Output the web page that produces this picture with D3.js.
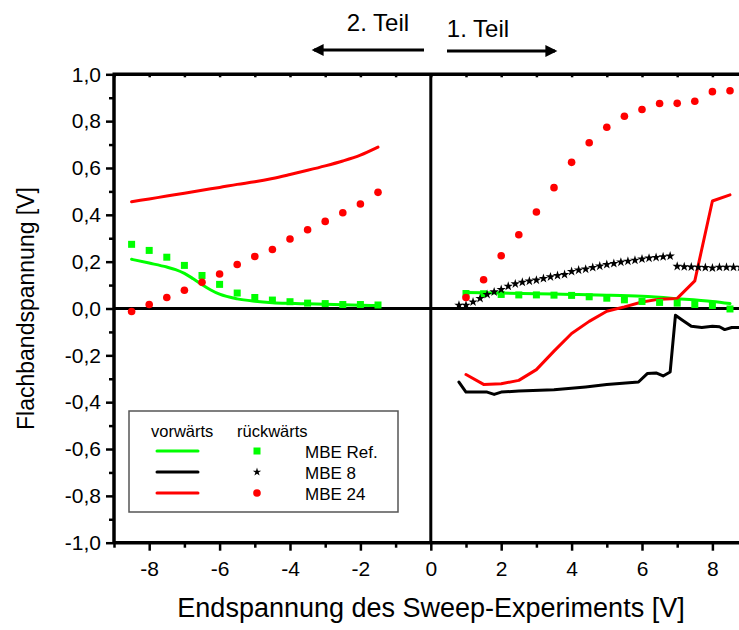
<!DOCTYPE html>
<html><head><meta charset="utf-8">
<script src="https://cdn.jsdelivr.net/npm/d3@7"></script>
<style>body{margin:0;background:#fff}svg{display:block}text{font-family:"Liberation Sans",Arial,sans-serif}</style>
</head><body>
<svg id="c" width="739" height="630"></svg>
<script>
// ---------- data ----------
const leftX = [-8.5,-8,-7.5,-7,-6.5,-6,-5.5,-5,-4.5,-4,-3.5,-3,-2.5,-2,-1.5];
const refFwdLeftX  = [-8.5,-8,-7.5,-7.25,-7,-6.75,-6.5,-6.25,-6,-5.5,-5,-4.5,-4,-3.5,-3,-2.5,-2,-1.5];
const refFwdLeft   = [0.210,0.194,0.177,0.166,0.150,0.127,0.102,0.079,0.061,0.041,0.031,0.025,0.022,0.020,0.018,0.016,0.014,0.013];
const refRevLeft   = [0.274,0.248,0.219,0.184,0.141,0.103,0.066,0.047,0.036,0.029,0.023,0.021,0.017,0.017,0.015];
const mbe24FwdLeft = [0.456,0.468,0.480,0.492,0.505,0.517,0.530,0.541,0.555,0.572,0.590,0.609,0.630,0.655,0.689];
const mbe24RevLeft = [-0.013,0.017,0.047,0.078,0.112,0.147,0.188,0.222,0.252,0.297,0.336,0.372,0.409,0.446,0.496];

const rightX = [1,1.5,2,2.5,3,3.5,4,4.5,5,5.5,6,6.5,7,7.5,8,8.5];
const refRevRight   = [0.064,0.063,0.060,0.058,0.058,0.057,0.056,0.050,0.044,0.037,0.030,0.026,0.023,0.017,0.013,-0.002];
const mbe24RevRight = [0.047,0.123,0.225,0.315,0.412,0.516,0.624,0.708,0.774,0.821,0.850,0.875,0.876,0.885,0.926,0.930];
const mbe24FwdRight = [-0.282,-0.324,-0.321,-0.307,-0.261,-0.182,-0.107,-0.055,-0.012,0.007,0.028,0.040,0.043,0.118,0.459,0.485];

const refFwdRightX = [1,2,3,4,5,6,7,8,8.5];
const refFwdRight  = [0.068,0.066,0.063,0.060,0.057,0.052,0.042,0.030,0.021];

const mbe8FwdX = [0.8,1.0,1.5,1.6,1.8,2.0,2.5,3.5,4.4,5.0,5.9,6.15,6.4,6.6,6.8,6.95,7.15,7.4,7.7,8.0,8.2,8.35,8.55,8.8];
const mbe8Fwd  = [-0.314,-0.357,-0.357,-0.357,-0.367,-0.357,-0.352,-0.347,-0.335,-0.325,-0.314,-0.278,-0.275,-0.288,-0.271,-0.029,-0.050,-0.076,-0.081,-0.076,-0.078,-0.090,-0.081,-0.081];

const mbe8RevX1 = [0.8,1.0,1.2,1.4,1.6,1.8,2.0,2.2,2.4,2.6,2.8,3.0,3.2,3.4,3.6,3.8,4.0,4.2,4.4,4.6,4.8,5.0,5.2,5.4,5.6,5.8,6.0,6.2,6.4,6.6,6.8];
const mbe8Rev1  = [0.014,0.014,0.028,0.043,0.060,0.071,0.081,0.095,0.105,0.112,0.117,0.121,0.128,0.135,0.141,0.145,0.158,0.164,0.168,0.175,0.181,0.188,0.192,0.198,0.202,0.206,0.211,0.215,0.218,0.221,0.224];
const mbe8RevX2 = [7.0,7.2,7.4,7.6,7.8,8.0,8.2,8.4,8.6,8.8];
const mbe8Rev2  = [0.180,0.178,0.177,0.176,0.175,0.173,0.176,0.176,0.176,0.176];

const xMajor = [-8,-6,-4,-2,0,2,4,6,8];
const xMinor = [-9,-7,-5,-3,-1,1,3,5,7,9];
const yMajor = [-1,-0.8,-0.6,-0.4,-0.2,0,0.2,0.4,0.6,0.8,1];
const yMinor = [-0.9,-0.7,-0.5,-0.3,-0.1,0.1,0.3,0.5,0.7,0.9];

const seriesNames = ["MBE Ref.","MBE 8","MBE 24"];
const seriesColors = ["#00ff00","#000000","#ff0000"];

// ---------- layout ----------
const svg = d3.select("#c");
const L = 114, T = 74.3, B = 542.7;
const x = d3.scaleLinear().domain([-9, 9]).range([L, L + 2*316.8]);
const y = d3.scaleLinear().domain([-1, 1]).range([B, T]);
const fmtY = v => d3.format(".1f")(v).replace(".", ",").replace("\u2212","-");
const fmtX = v => d3.format("d")(v).replace("\u2212","-");

svg.append("defs").append("clipPath").attr("id","clip")
  .append("rect").attr("x", L).attr("y", T).attr("width", 739 - L).attr("height", B - T);

const plot = svg.append("g").attr("clip-path","url(#clip)");

// zero lines
plot.append("line").attr("x1", L).attr("x2", 739).attr("y1", y(0)).attr("y2", y(0))
  .attr("stroke","#000").attr("stroke-width",3);
plot.append("line").attr("x1", x(0)).attr("x2", x(0)).attr("y1", T).attr("y2", B)
  .attr("stroke","#000").attr("stroke-width",3);

const line = d3.line().x(d => x(d[0])).y(d => y(d[1]));
const smooth = d3.line().x(d => x(d[0])).y(d => y(d[1])).curve(d3.curveMonotoneX);
const zip = (a, b) => a.map((v, i) => [v, b[i]]);

function drawLine(pts, color, gen) {
  plot.append("path").attr("d", (gen || line)(pts)).attr("fill","none")
    .attr("stroke", color).attr("stroke-width", 3).attr("stroke-linejoin","round").attr("stroke-linecap","round");
}
function squares(pts, color) {
  plot.selectAll(null).data(pts).enter().append("rect")
    .attr("x", d => x(d[0]) - 3.5).attr("y", d => y(d[1]) - 3.5)
    .attr("width", 7).attr("height", 7).attr("fill", color);
}
function circles(pts, color) {
  plot.selectAll(null).data(pts).enter().append("circle")
    .attr("cx", d => x(d[0])).attr("cy", d => y(d[1])).attr("r", 3.8).attr("fill", color);
}
const starSym = d3.symbol().type(d3.symbolStar).size(28);
function stars(pts, color) {
  plot.selectAll(null).data(pts).enter().append("path")
    .attr("d", starSym).attr("transform", d => `translate(${x(d[0])},${y(d[1])})`).attr("fill", color);
}

// forward lines
drawLine(zip(refFwdLeftX, refFwdLeft), seriesColors[0], smooth);
drawLine(zip(leftX, mbe24FwdLeft), seriesColors[2], smooth);
drawLine(zip(refFwdRightX, refFwdRight), seriesColors[0], smooth);
drawLine(zip(mbe8FwdX, mbe8Fwd), seriesColors[1]);
drawLine(zip(rightX, mbe24FwdRight), seriesColors[2]);

// reverse markers
squares(zip(leftX, refRevLeft), seriesColors[0]);
squares(zip(rightX, refRevRight), seriesColors[0]);
stars(zip(mbe8RevX1, mbe8Rev1), seriesColors[1]);
stars(zip(mbe8RevX2, mbe8Rev2), seriesColors[1]);
circles(zip(leftX, mbe24RevLeft), seriesColors[2]);
circles(zip(rightX, mbe24RevRight), seriesColors[2]);

// ---------- axes ----------
const ax = svg.append("g");
ax.append("g").attr("transform", `translate(0,${B})`)
  .call(d3.axisBottom(x).tickValues(xMajor).tickSize(8).tickPadding(10).tickFormat(fmtX));
ax.append("g").attr("transform", `translate(0,${B})`)
  .call(d3.axisBottom(x).tickValues(xMinor).tickSize(5).tickFormat(""));
ax.append("g").attr("transform", `translate(0,${T})`)
  .call(d3.axisBottom(x).tickValues(xMajor.concat(xMinor)).tickSize(3).tickFormat(""));
ax.append("g").attr("transform", `translate(${L},0)`)
  .call(d3.axisLeft(y).tickValues(yMajor).tickSize(8).tickPadding(5).tickFormat(fmtY));
ax.append("g").attr("transform", `translate(${L},0)`)
  .call(d3.axisLeft(y).tickValues(yMinor).tickSize(5).tickFormat(""));

ax.selectAll(".domain").remove();
ax.selectAll(".tick line").attr("stroke","#000").attr("stroke-width",2.5);
ax.selectAll(".tick text").attr("fill","#000").attr("font-size","21px")
  .attr("font-family",'"Liberation Sans",Arial,sans-serif');

ax.append("line").attr("x1", L).attr("x2", 739).attr("y1", B).attr("y2", B).attr("stroke","#000").attr("stroke-width",3.5);
ax.append("line").attr("x1", L - 1.5).attr("x2", 739).attr("y1", T).attr("y2", T).attr("stroke","#000").attr("stroke-width",3.5);
ax.append("line").attr("x1", L).attr("x2", L).attr("y1", T).attr("y2", B).attr("stroke","#000").attr("stroke-width",3.5);

// titles
svg.append("text").attr("x", 431).attr("y", 617).attr("text-anchor","middle")
  .attr("font-size","27px").text("Endspannung des Sweep-Experiments [V]");
svg.append("text").attr("transform", `translate(34,${(T+B)/2}) rotate(-90)`).attr("text-anchor","middle")
  .attr("font-size","23px").text("Flachbandspannung [V]");

// part labels + arrows
svg.append("text").attr("x", 378).attr("y", 31).attr("text-anchor","middle").attr("font-size","24px").text("2. Teil");
svg.append("text").attr("x", 478).attr("y", 37).attr("text-anchor","middle").attr("font-size","24px").text("1. Teil");
const defs = svg.select("defs");
defs.append("marker").attr("id","ah").attr("viewBox","0 0 10 10").attr("refX",8).attr("refY",5)
  .attr("markerWidth",4.5).attr("markerHeight",4).attr("markerUnits","strokeWidth").attr("orient","auto")
  .append("path").attr("d","M0,0 L10,5 L0,10 Z").attr("fill","#000");
svg.append("line").attr("x1", 424).attr("x2", 314).attr("y1", 50).attr("y2", 50)
  .attr("stroke","#000").attr("stroke-width",3).attr("marker-end","url(#ah)");
svg.append("line").attr("x1", 447).attr("x2", 555).attr("y1", 51).attr("y2", 51)
  .attr("stroke","#000").attr("stroke-width",3).attr("marker-end","url(#ah)");

// ---------- legend ----------
const lg = svg.append("g");
lg.append("rect").attr("x",129).attr("y",411).attr("width",269).attr("height",101)
  .attr("fill","#fff").attr("stroke","#555").attr("stroke-width",1.5);
lg.append("text").attr("x",151).attr("y",437).attr("font-size","16.5px").text("vorwärts");
lg.append("text").attr("x",237).attr("y",437).attr("font-size","16.5px").text("rückwärts");
const rowY = [451, 472, 493];
seriesNames.forEach((n, i) => {
  lg.append("line").attr("x1",157).attr("x2",198).attr("y1",rowY[i]).attr("y2",rowY[i])
    .attr("stroke",seriesColors[i]).attr("stroke-width",3).attr("stroke-linecap","round");
  lg.append("text").attr("x",305).attr("y",rowY[i]+7).attr("font-size","17px").text(n);
});
lg.append("rect").attr("x",257-3.5).attr("y",rowY[0]-3.5).attr("width",7).attr("height",7).attr("fill",seriesColors[0]);
lg.append("path").attr("d",d3.symbol().type(d3.symbolStar).size(22)).attr("transform",`translate(257,${rowY[1]})`).attr("fill",seriesColors[1]);
lg.append("circle").attr("cx",257).attr("cy",rowY[2]).attr("r",3.8).attr("fill",seriesColors[2]);
</script>
</body></html>
